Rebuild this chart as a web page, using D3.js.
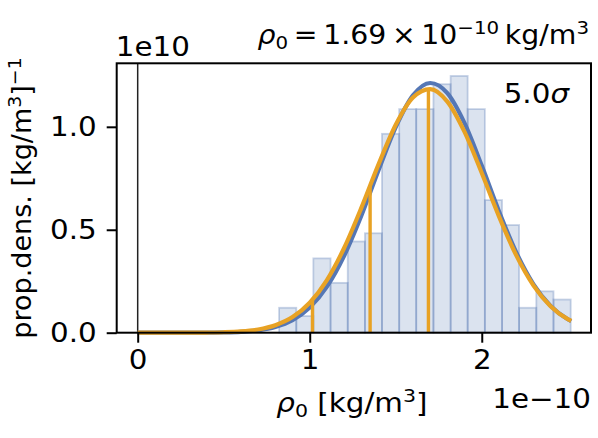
<!DOCTYPE html>
<html>
<head>
<meta charset="utf-8">
<script src="https://cdn.jsdelivr.net/npm/d3@7"></script>
<style>
  html, body { margin: 0; padding: 0; background: #ffffff; }
  svg { display: block; }
  text { font-family: "DejaVu Sans", sans-serif; fill: #000; }
</style>
</head>
<body>
<svg id="chart" width="598" height="438"></svg>
<script>
// ---------- data (x in units of 1e-10 kg/m^3, density in units of 1e10) ----------
const binEdges = [0.822, 0.922, 1.021, 1.121, 1.221, 1.321, 1.420, 1.520, 1.619, 1.719,
                  1.819, 1.918, 2.018, 2.118, 2.217, 2.317, 2.417, 2.517];
const binDensity = [0.121, 0.081, 0.361, 0.242, 0.443, 0.483, 0.966, 1.086, 1.086, 1.207,
                    1.247, 1.086, 0.644, 0.523, 0.121, 0.201, 0.161];

const curveX = [0, 0.1, 0.2, 0.3, 0.4, 0.5, 0.6, 0.7, 0.8, 0.9, 1.0, 1.1, 1.2, 1.3, 1.4,
                1.5, 1.6, 1.7, 1.8, 1.9, 2.0, 2.1, 2.2, 2.3, 2.4, 2.5, 2.52];
const blueY = [0, 0, 0, 0.0001, 0.0005, 0.0015, 0.0043, 0.0114, 0.0276, 0.0608, 0.1221,
               0.2237, 0.3735, 0.5685, 0.7893, 0.9990, 1.1528, 1.2129, 1.1635, 1.0176,
               0.8115, 0.5900, 0.3911, 0.2364, 0.1303, 0.0655, 0.0564];
const orangeY = [0, 0, 0, 0.0002, 0.0008, 0.0023, 0.0063, 0.0158, 0.0362, 0.0758, 0.1455,
                 0.2556, 0.4114, 0.6061, 0.8176, 1.0101, 1.1426, 1.1835, 1.1226, 0.9751,
                 0.7755, 0.5649, 0.3767, 0.2302, 0.1287, 0.0659, 0.0570];

const vlineX = [1.016, 1.351, 1.69];
const vlineTop = [0.160, 0.714, 1.184];

const xTicks = [0, 1, 2];
const xTickLabels = ["0", "1", "2"];
const yTicks = [0.0, 0.5, 1.0];
const yTickLabels = ["0.0", "0.5", "1.0"];

// ---------- layout ----------
const L = 116.7, R = 591, T = 63.3, B = 332.7;
const FS = 26;
const SX = 1.13; // horizontal glyph stretch of the reference
const blue = "#5577b5", orange = "#e8a224";

const svg = d3.select("#chart");
const x = d3.scaleLinear().domain([-0.122, 2.635]).range([L, R]);
const y = d3.scaleLinear().domain([0, 1.3085]).range([B, T]);

function htext(px, py, anchor, sx) {
  return svg.append("text")
    .attr("transform", `translate(${px},${py}) scale(${sx || SX},1)`)
    .attr("font-size", FS).attr("text-anchor", anchor || "start");
}

// bars
const bins = binDensity.map((d, i) => ({x0: binEdges[i], x1: binEdges[i + 1], v: d}));
svg.append("g").selectAll("rect").data(bins).join("rect")
  .attr("x", d => x(d.x0))
  .attr("y", d => y(d.v))
  .attr("width", d => x(d.x1) - x(d.x0))
  .attr("height", d => y(0) - y(d.v))
  .attr("fill", "#4c72b0").attr("fill-opacity", 0.2)
  .attr("stroke", "#4c72b0").attr("stroke-opacity", 0.3).attr("stroke-width", 1.8);

// vertical line at zero
svg.append("line")
  .attr("x1", x(0)).attr("x2", x(0)).attr("y1", T).attr("y2", B)
  .attr("stroke", "#222").attr("stroke-width", 1.5);

// curves
const line = (ys) => d3.line().x((d, i) => x(curveX[i])).y(d => y(d)).curve(d3.curveMonotoneX)(ys);
svg.append("path").attr("d", line(blueY)).attr("fill", "none")
  .attr("stroke", blue).attr("stroke-width", 4.2);
svg.append("path").attr("d", line(orangeY)).attr("fill", "none")
  .attr("stroke", orange).attr("stroke-width", 4.2);

// vertical orange lines
svg.append("g").selectAll("line").data(vlineX).join("line")
  .attr("x1", d => x(d)).attr("x2", d => x(d))
  .attr("y1", y(0)).attr("y2", (d, i) => y(vlineTop[i]))
  .attr("stroke", orange).attr("stroke-width", 3.4);

// frame
svg.append("rect").attr("x", L).attr("y", T).attr("width", R - L).attr("height", B - T)
  .attr("fill", "none").attr("stroke", "#000").attr("stroke-width", 2);

// x axis
const xAxis = d3.axisBottom(x).tickValues(xTicks)
  .tickFormat((d, i) => xTickLabels[i]).tickSize(10).tickPadding(8);
const gx = svg.append("g").attr("transform", `translate(0,${B})`).call(xAxis);
gx.select(".domain").remove();
gx.selectAll(".tick line").attr("stroke", "#000").attr("stroke-width", 2);
gx.selectAll(".tick text").attr("font-size", FS).attr("font-family", "DejaVu Sans")
  .attr("transform", `scale(${SX},1)`);

// y axis
const yAxis = d3.axisLeft(y).tickValues(yTicks)
  .tickFormat((d, i) => yTickLabels[i]).tickSize(10).tickPadding(10);
const gy = svg.append("g").attr("transform", `translate(${L},0)`).call(yAxis);
gy.select(".domain").remove();
gy.selectAll(".tick line").attr("stroke", "#000").attr("stroke-width", 2);
gy.selectAll(".tick text").attr("font-size", FS).attr("font-family", "DejaVu Sans")
  .attr("x", -20 / SX).attr("transform", `scale(${SX},1)`);

// offset texts
htext(L - 1, 56).text("1e10");
htext(R, 408, "end").text("1e\u221210");

// sigma label
const sg = htext(569, 103, "end");
sg.append("tspan").text("5.0");
sg.append("tspan").attr("font-style", "italic").text("\u03c3");

// title
const tt = htext(R - 2, 44, "end", 1.09);
tt.append("tspan").attr("font-style", "italic").text("\u03c1");
tt.append("tspan").attr("font-size", FS * 0.7).attr("dy", 5).text("0");
tt.append("tspan").attr("dy", -5).text("\u2009=\u20091.69\u2009\u00d7\u200910");
tt.append("tspan").attr("font-size", FS * 0.7).attr("dy", -10).text("\u221210");
tt.append("tspan").attr("dy", 10).text("\u2009kg/m");
tt.append("tspan").attr("font-size", FS * 0.7).attr("dy", -10).text("3");

// x label
const xl = htext((L + R) / 2 - 2, 412, "middle");
xl.append("tspan").attr("font-style", "italic").text("\u03c1");
xl.append("tspan").attr("font-size", FS * 0.7).attr("dy", 5).text("0");
xl.append("tspan").attr("dy", -5).text(" [kg/m");
xl.append("tspan").attr("font-size", FS * 0.7).attr("dy", -10).text("3");
xl.append("tspan").attr("dy", 10).text("]");

// y label
const yl = svg.append("text").attr("transform", `translate(31,${(T + B) / 2}) rotate(-90) scale(1.04,1)`)
  .attr("font-size", FS).attr("text-anchor", "middle");
yl.append("tspan").text("prop.dens. [kg/m");
yl.append("tspan").attr("font-size", FS * 0.7).attr("dy", -10).text("3");
yl.append("tspan").attr("dy", 10).text("]");
yl.append("tspan").attr("font-size", FS * 0.7).attr("dy", -10).text("\u22121");
</script>
</body>
</html>
